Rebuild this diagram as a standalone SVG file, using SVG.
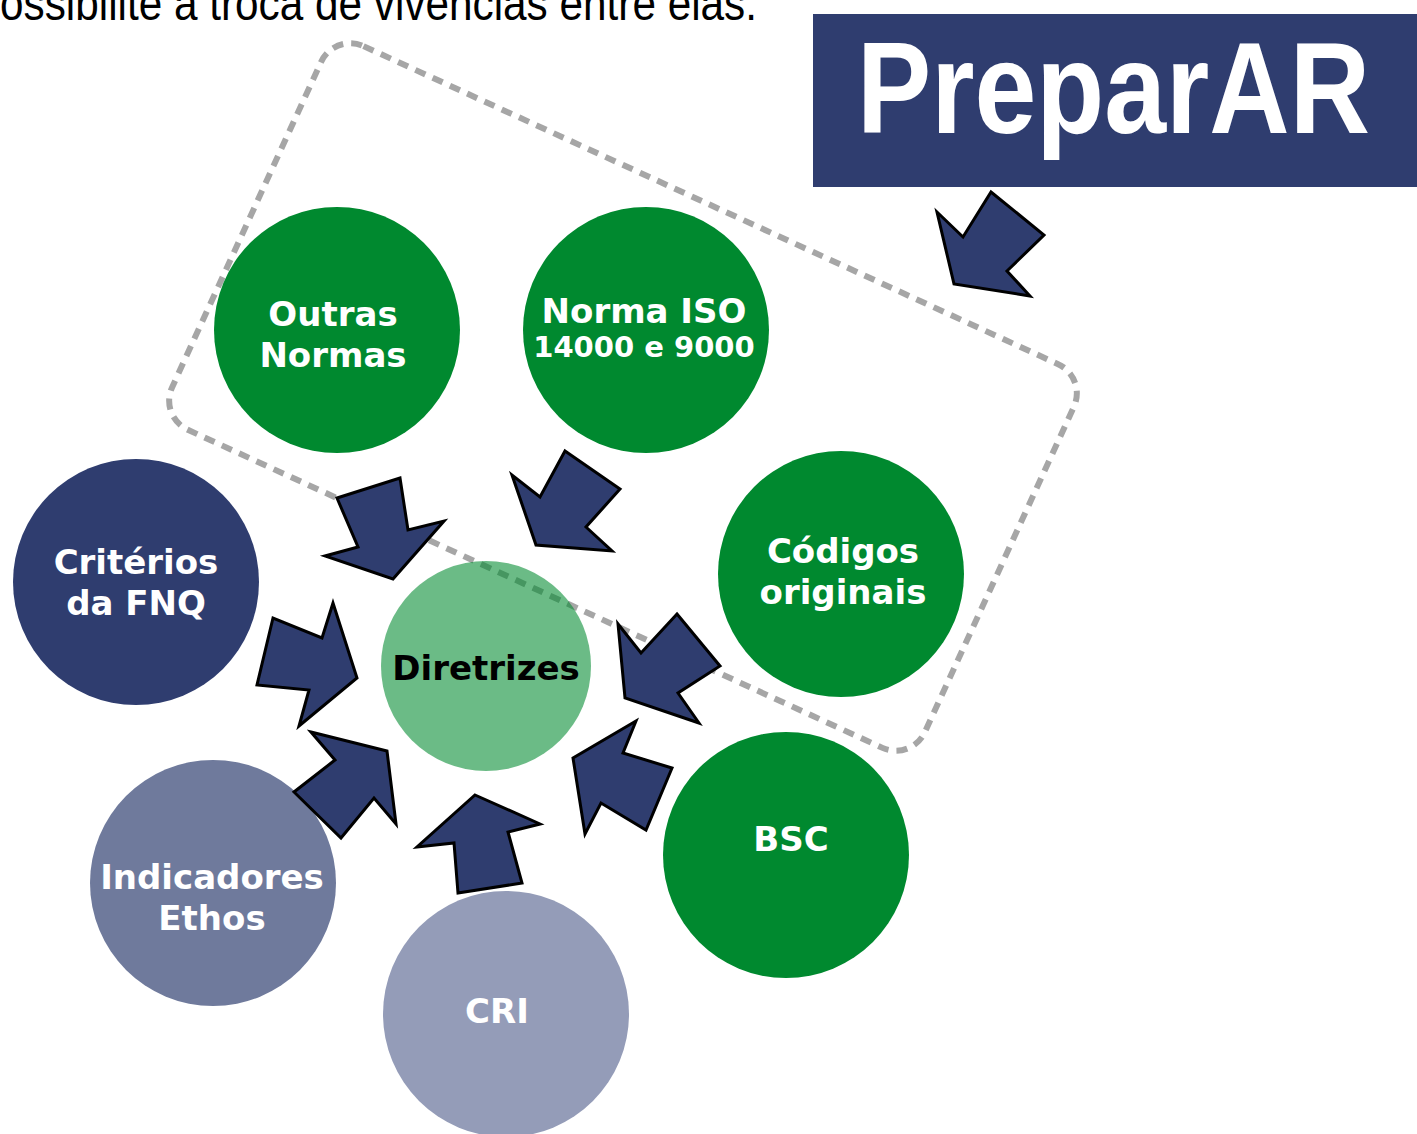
<svg xmlns="http://www.w3.org/2000/svg" width="1417" height="1134" viewBox="0 0 1417 1134">
<style>
.lbl{font-family:"DejaVu Sans",Verdana,sans-serif;font-weight:bold;font-size:34px;fill:#ffffff;text-anchor:middle}
.arrow{fill:#2f3d6f;stroke:#000000;stroke-width:3;stroke-linejoin:miter}
.green{fill:#00892f}
</style>
<rect width="1417" height="1134" fill="#ffffff"/>
<text x="0" y="20" font-family="Liberation Sans, Arial, sans-serif" font-size="48" fill="#000000" textLength="757" lengthAdjust="spacingAndGlyphs">ossibilite a troca de vivências entre elas.</text>
<g id="preparar">
<rect x="813" y="14" width="604" height="173" fill="#2f3d6f"/>
<text x="857" y="133" font-family="Liberation Sans, Arial, sans-serif" font-weight="bold" font-size="130" fill="#ffffff" textLength="513" lengthAdjust="spacingAndGlyphs">PreparAR</text>
</g>
<g id="group-box">
<rect x="-414" y="-211" width="828" height="422" rx="32" transform="translate(623,397) rotate(24.6)" fill="none" stroke="#a6a6a6" stroke-width="6" stroke-dasharray="11 8"/>
</g>
<g id="outras-normas">
<circle cx="337" cy="330" r="123" class="green"/>
<text class="lbl" x="333" y="326">Outras</text>
<text class="lbl" x="333" y="367">Normas</text>
</g>
<g id="norma-iso">
<circle cx="646" cy="330" r="123" class="green"/>
<text class="lbl" x="644" y="323">Norma ISO</text>
<text class="lbl" x="644" y="357" style="font-size:29px">14000 e 9000</text>
</g>
<g id="criterios-fnq">
<circle cx="136" cy="582" r="123" fill="#2f3d6f"/>
<text class="lbl" x="136" y="574">Critérios</text>
<text class="lbl" x="136" y="615">da FNQ</text>
</g>
<g id="codigos-originais">
<circle cx="841" cy="574" r="123" class="green"/>
<text class="lbl" x="843" y="563">Códigos</text>
<text class="lbl" x="843" y="604">originais</text>
</g>
<g id="bsc">
<circle cx="786" cy="855" r="123" class="green"/>
<text class="lbl" x="791" y="851">BSC</text>
</g>
<g id="indicadores-ethos">
<circle cx="213" cy="883" r="123" fill="#6f7a9c"/>
<text class="lbl" x="212" y="889">Indicadores</text>
<text class="lbl" x="212" y="930">Ethos</text>
</g>
<g id="cri">
<circle cx="506" cy="1014" r="123" fill="#949cb8"/>
<text class="lbl" x="497" y="1023">CRI</text>
</g>
<g id="diretrizes">
<circle cx="486" cy="666" r="105" fill="#00892f" fill-opacity="0.58"/>
<text class="lbl" x="486" y="680" style="fill:#000000">Diretrizes</text>
</g>
<g id="connectors">
<polygon class="arrow" points="991,192 1044,235 1007,271 1030,296 954,284 937,212 963,237"/>
<polygon class="arrow" points="337,498 400,478 408,530 444,521 393,579 325,556 358,547"/>
<polygon class="arrow" points="565,451 620,489 586,527 612,551 536,545 512,475 540,497"/>
<polygon class="arrow" points="677,614 720,666 678,693 699,723 625,698 618,624 641,653"/>
<polygon class="arrow" points="636,721 623,753 672,768 646,830 601,803 585,834 573,758"/>
<polygon class="arrow" points="475,795 540,824 508,832 522,883 458,893 454,843 417,847"/>
<polygon class="arrow" points="311,732 387,751 396,824 374,798 341,838 294,792 335,760"/>
<polygon class="arrow" points="333,603 357,678 299,726 309,690 257,685 273,618 322,638"/>
</g>
</svg>
